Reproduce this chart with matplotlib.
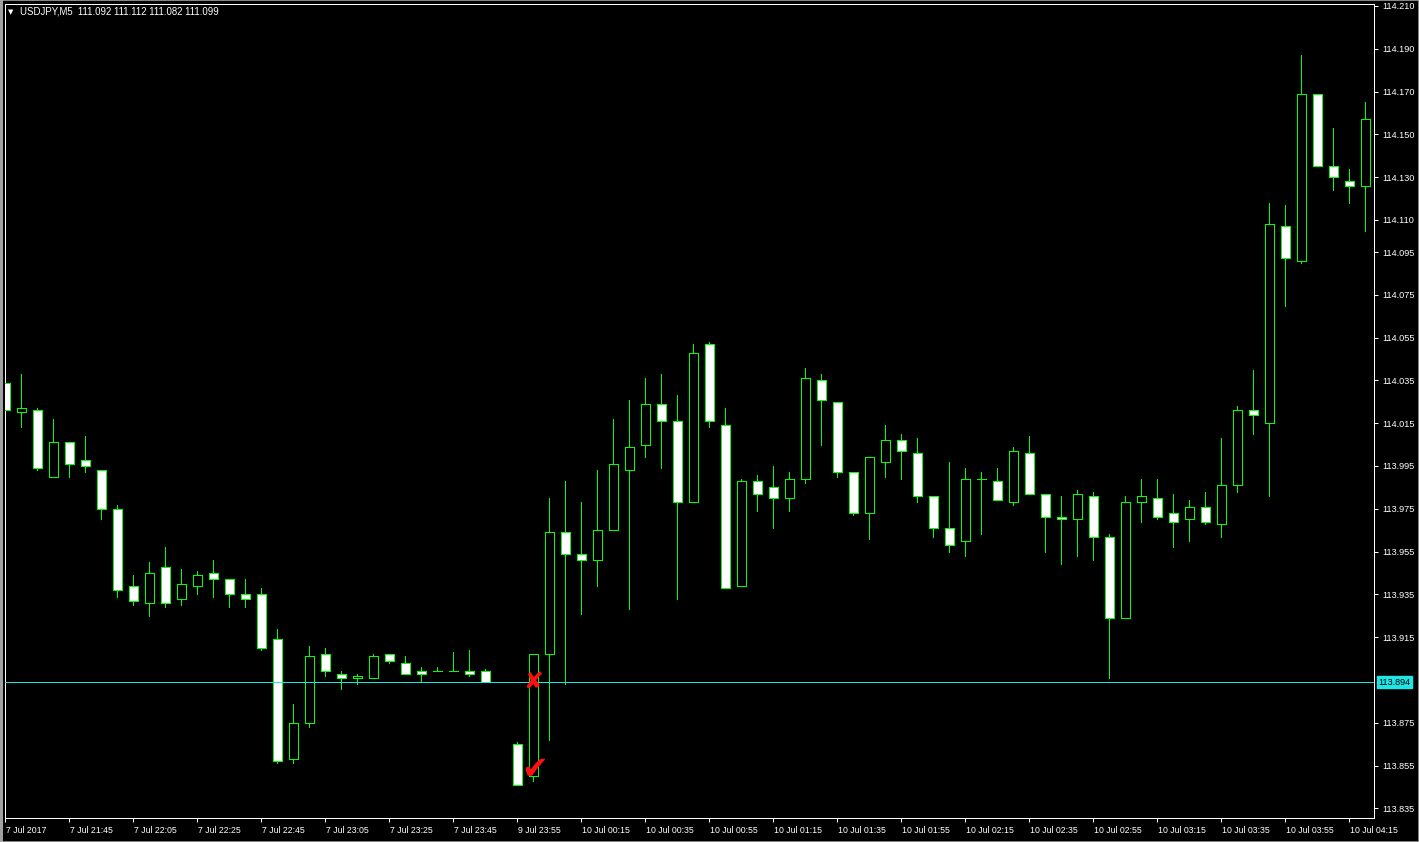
import matplotlib
matplotlib.use("Agg")
import matplotlib.pyplot as plt
from matplotlib.patches import Rectangle
import matplotlib.transforms as mtransforms

# ---- data (USDJPY M5) ----
opens = [114.034, 114.020, 114.021, 113.990, 114.006, 113.998, 113.993, 113.975, 113.939, 113.931,
         113.948, 113.933, 113.939, 113.945, 113.942, 113.935, 113.935, 113.914, 113.858, 113.875,
         113.907, 113.898, 113.896, 113.896, 113.907, 113.903, 113.899, 113.899, 113.899, 113.899,
         113.899, 113.894, 113.865, 113.850, 113.907, 113.964, 113.954, 113.951, 113.965, 113.993,
         114.005, 114.024, 114.016, 113.978, 114.052, 114.014, 113.939, 113.988, 113.985, 113.980,
         113.989, 114.035, 114.025, 113.992, 113.973, 113.997, 114.007, 114.001, 113.981, 113.966,
         113.960, 113.989, 113.988, 113.978, 114.001, 113.982, 113.971, 113.970, 113.981, 113.962,
         113.924, 113.978, 113.980, 113.973, 113.970, 113.976, 113.968, 113.986, 114.021, 114.015,
         114.107, 114.091, 114.169, 114.135, 114.128, 114.126]
highs = [114.043, 114.038, 114.022, 114.017, 114.006, 114.009, 113.993, 113.977, 113.944, 113.950,
         113.957, 113.947, 113.946, 113.951, 113.942, 113.942, 113.938, 113.919, 113.884, 113.911,
         113.910, 113.899, 113.898, 113.907, 113.907, 113.906, 113.901, 113.901, 113.908, 113.909,
         113.900, 113.894, 113.866, 113.907, 113.980, 113.988, 113.978, 113.993, 114.017, 114.026,
         114.036, 114.038, 114.028, 114.052, 114.053, 114.022, 113.989, 113.991, 113.995, 113.992,
         114.041, 114.038, 114.025, 113.992, 113.999, 114.014, 114.010, 114.008, 113.981, 113.997,
         113.994, 113.992, 113.994, 114.004, 114.009, 113.982, 113.981, 113.984, 113.983, 113.963,
         113.981, 113.989, 113.989, 113.982, 113.979, 113.983, 114.008, 114.023, 114.040, 114.118,
         114.117, 114.187, 114.169, 114.153, 114.134, 114.165]
lows = [114.020, 114.013, 113.993, 113.990, 113.990, 113.992, 113.970, 113.934, 113.930, 113.925,
        113.929, 113.930, 113.935, 113.934, 113.929, 113.929, 113.909, 113.856, 113.856, 113.873,
        113.897, 113.891, 113.893, 113.896, 113.903, 113.898, 113.894, 113.899, 113.899, 113.897,
        113.894, 113.894, 113.846, 113.848, 113.867, 113.893, 113.926, 113.939, 113.965, 113.928,
        113.999, 113.994, 113.933, 113.978, 114.013, 113.938, 113.939, 113.974, 113.966, 113.974,
        113.987, 114.005, 113.990, 113.972, 113.961, 113.990, 113.989, 113.978, 113.962, 113.955,
        113.953, 113.963, 113.979, 113.977, 113.982, 113.955, 113.949, 113.953, 113.951, 113.896,
        113.924, 113.969, 113.970, 113.957, 113.960, 113.968, 113.962, 113.983, 114.010, 113.981,
        114.070, 114.090, 114.135, 114.124, 114.118, 114.105]
closes = [114.021, 114.022, 113.994, 114.006, 113.996, 113.995, 113.975, 113.937, 113.932, 113.945,
          113.931, 113.940, 113.944, 113.942, 113.935, 113.933, 113.910, 113.857, 113.875, 113.906,
          113.899, 113.896, 113.897, 113.906, 113.904, 113.898, 113.898, 113.899, 113.899, 113.898,
          113.894, 113.894, 113.846, 113.907, 113.964, 113.954, 113.951, 113.965, 113.996, 114.004,
          114.024, 114.016, 113.978, 114.048, 114.016, 113.938, 113.988, 113.982, 113.980, 113.989,
          114.036, 114.026, 113.992, 113.973, 113.999, 114.007, 114.002, 113.981, 113.966, 113.958,
          113.989, 113.989, 113.979, 114.002, 113.982, 113.971, 113.970, 113.982, 113.962, 113.924,
          113.978, 113.981, 113.971, 113.969, 113.976, 113.969, 113.986, 114.021, 114.019, 114.108,
          114.092, 114.169, 114.135, 114.130, 114.126, 114.157]

x_tick_labels = ["7 Jul 2017", "7 Jul 21:45", "7 Jul 22:05", "7 Jul 22:25", "7 Jul 22:45",
                 "7 Jul 23:05", "7 Jul 23:25", "7 Jul 23:45", "9 Jul 23:55", "10 Jul 00:15",
                 "10 Jul 00:35", "10 Jul 00:55", "10 Jul 01:15", "10 Jul 01:35", "10 Jul 01:55",
                 "10 Jul 02:15", "10 Jul 02:35", "10 Jul 02:55", "10 Jul 03:15", "10 Jul 03:35",
                 "10 Jul 03:55", "10 Jul 04:15"]
y_ticks = [114.210, 114.190, 114.170, 114.150, 114.130, 114.110, 114.095, 114.075, 114.055,
           114.035, 114.015, 113.995, 113.975, 113.955, 113.935, 113.915, 113.875, 113.855, 113.835]
bid_price = 113.894
title_text = "USDJPY,M5  111.092 111.112 111.082 111.099"

GREEN = "#00ff00"
CYAN = "#1fe6e6"
FONT = ["Liberation Sans", "DejaVu Sans"]
plt.rcParams["font.family"] = FONT

W, H = 1419, 842
fig = plt.figure(figsize=(W / 100, H / 100), dpi=100, facecolor="black")
ax = fig.add_axes([5 / W, (H - 818) / H, (1374 - 5) / W, (818 - 4) / H])
ax.set_facecolor("black")

px = 0.72  # one pixel in points
body_w = 0.5625
n = len(opens)
for k in range(n):
    o, h, l, c = opens[k], highs[k], lows[k], closes[k]
    ax.vlines(k, l, h, color=GREEN, lw=px, zorder=2, antialiased=False)
    if abs(c - o) < 1e-9:
        ax.hlines(o, k - body_w / 2, k + body_w / 2, color=GREEN, lw=px, zorder=3,
                  antialiased=False)
    else:
        face = "white" if c < o else "black"
        ax.add_patch(Rectangle((k - body_w / 2, min(o, c)), body_w, abs(c - o),
                               facecolor=face, edgecolor=GREEN, lw=px, zorder=3,
                               antialiased=False))

# bid line
ax.axhline(bid_price, color=CYAN, lw=px, zorder=4, antialiased=False)

# markers (red X and check)
ax.text(33, bid_price, "\u2718", color="#ff1010", fontsize=17, ha="center", va="center",
        family=["DejaVu Sans"], zorder=6)
ax.text(33.1, 113.8525, "\u2714", color="#ff1010", fontsize=23, ha="center", va="center",
        family=["DejaVu Sans"], zorder=6)

ax.set_xlim(-0.02, 85.54)
ax.set_ylim(113.8305, 114.2109)

for s in ax.spines.values():
    s.set_color("white")
    s.set_linewidth(px)
    s.set_antialiased(False)

ax.yaxis.tick_right()
ax.set_yticks(y_ticks)
ax.set_yticklabels([f"{v:.3f}" for v in y_ticks])
ax.tick_params(axis="y", direction="out", length=3, width=px, colors="white",
               labelsize=6.6, pad=3)

xt = list(range(0, n, 4))[:len(x_tick_labels)]
ax.set_xticks(xt)
ax.set_xticklabels(x_tick_labels)
ax.tick_params(axis="x", direction="out", length=3, width=px, colors="white",
               labelsize=6.3, pad=3)
offset = mtransforms.ScaledTranslation(1 / 100, 0, fig.dpi_scale_trans)
for lab in ax.get_xticklabels():
    lab.set_ha("left")
    lab.set_transform(lab.get_transform() + offset)

# bid price label
ax.annotate(f"{bid_price:.3f}", xy=(1.0, bid_price), xycoords=ax.get_yaxis_transform(),
            xytext=(3, 0), textcoords="offset points", ha="left", va="center",
            fontsize=6.6, color="black",
            bbox=dict(boxstyle="square,pad=0.15", facecolor=CYAN, edgecolor=CYAN))

# title
fig.text(8 / W, 1 - 12 / H, "\u25bc", color="white", fontsize=5, va="center",
         family=["DejaVu Sans"])
fig.text(20 / W, 1 - 12 / H, title_text, color="white", fontsize=6.9, va="center")

# window border
fig.add_artist(Rectangle((0, 0), 3 / W, 1, transform=fig.transFigure, facecolor="#a0a0a0",
                         edgecolor="none"))
fig.add_artist(Rectangle((0, 0), 1, 1, transform=fig.transFigure, facecolor="none",
                         edgecolor="#a0a0a0", lw=1.2))

fig.savefig("out.png", dpi=100, facecolor="black")
